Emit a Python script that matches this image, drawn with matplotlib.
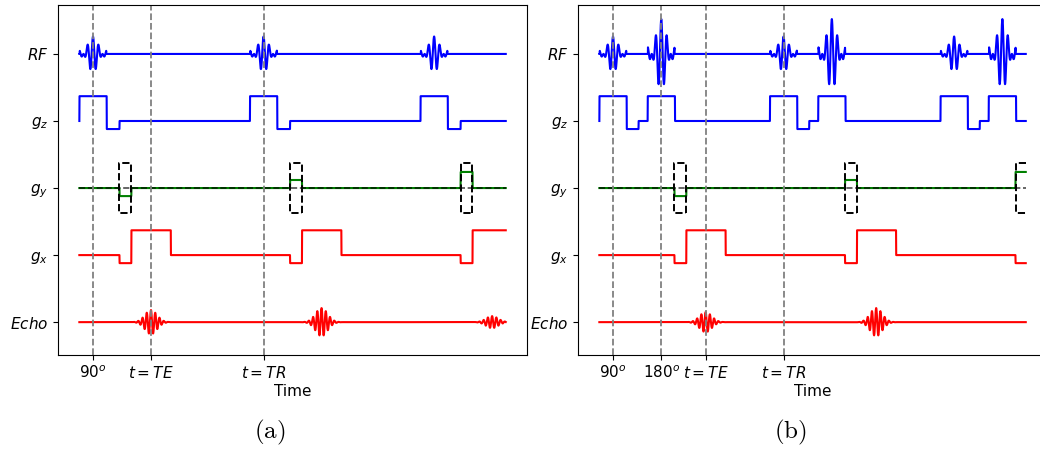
"""Gradient-echo (a) and spin-echo (b) pulse sequence diagrams."""

import numpy as np
import matplotlib
matplotlib.use("Agg")
import matplotlib.pyplot as plt

# timing (arbitrary units)
T_END = 25.0
TR = 10.0
N_REP = 3
T90 = 0.8
TE_A = 4.2
T180_B = 3.63
TE_B = 6.23

# row positions on the y axis
ROW_NAMES = ["$RF$", "$g_z$", "$g_y$", "$g_x$", "$Echo$"]
ROW_Y = [4, 3, 2, 1, 0]

# RF pulses per repetition: (centre, amplitude)
RF_A = [(0.8, 0.26)]
RF_B = [(0.8, 0.26), (3.63, 0.52)]

# gradient lobes per repetition: (start, end, level)
GZ_A = [(0.0, 1.6, 0.37), (1.6, 2.35, -0.12)]
GZ_B = [(0.0, 1.6, 0.37), (1.6, 2.3, -0.12), (2.83, 4.43, 0.37)]
GX_A = [(2.35, 3.05, -0.12), (3.05, 5.36, 0.37)]
GX_B = [(4.4, 5.1, -0.12), (5.1, 7.4, 0.37)]

# phase-encode lobe window and steps
GY_A = (2.35, 3.05)
GY_B = (4.4, 5.1)
GY_STEP = 0.12
GY_STEPS = [-1, 1, 2]
GY_BOX = 0.37

# echo amplitudes per repetition
ECHO_A = [0.18, 0.21, 0.09]
ECHO_B = [0.15, 0.21, 0.08]

TICKS_A = [T90, TE_A, T90 + TR]
LABELS_A = ["$90^o$", "$t=TE$", "$t=TR$"]
TICKS_B = [T90, T180_B, TE_B, T90 + TR]
LABELS_B = ["$90^o$", "$180^o$", "$t=TE$", "$t=TR$"]

t = np.linspace(0, T_END, 5001)


def rf_wave(pulses):
    y = np.zeros_like(t)
    for k in range(N_REP):
        for c, a in pulses:
            u = t - (c + k * TR)
            env = np.sinc(u / 0.55) * (np.abs(u) < 0.78)
            y += a * env * np.cos(2 * np.pi * 3.1 * u)
    return y


def grad_wave(lobes):
    y = np.zeros_like(t)
    for k in range(N_REP):
        for s, e, lev in lobes:
            m = (t > s + k * TR) & (t <= e + k * TR)
            y[m] = lev
    return y


def gy_wave(win):
    y = np.zeros_like(t)
    for k, st in enumerate(GY_STEPS):
        m = (t > win[0] + k * TR) & (t <= win[1] + k * TR)
        y[m] = st * GY_STEP
    return y


def echo_wave(te, amps):
    y = np.zeros_like(t)
    for k, a in enumerate(amps):
        u = t - (te + k * TR)
        y += a * np.exp(-(u / 0.5) ** 2) * np.cos(2 * np.pi * 4.0 * u)
    return y


def draw(ax, rf, gz, gx, gy_win, te, echo, ticks, labels):
    ax.plot(t, ROW_Y[0] + rf_wave(rf), color="b", lw=1.5)
    ax.plot(t, ROW_Y[1] + grad_wave(gz), color="b", lw=1.5)
    ax.plot(t, ROW_Y[2] + gy_wave(gy_win), color="g", lw=1.5)
    ax.plot([0, T_END], [ROW_Y[2], ROW_Y[2]], "k--", lw=1.2, alpha=0.7)
    for k in range(N_REP):
        x0 = gy_win[0] + k * TR
        x1 = gy_win[1] + k * TR
        top, bot = ROW_Y[2] + GY_BOX, ROW_Y[2] - GY_BOX
        xs = [min(x1, T_END), x0, x0, min(x1, T_END)]
        ys = [top, top, bot, bot]
        if x1 <= T_END:
            xs = [x1] + xs
            ys = [bot] + ys
        ax.plot(xs, ys, "k--", lw=1.4)
    ax.plot(t, ROW_Y[3] + grad_wave(gx), color="r", lw=1.5)
    ax.plot(t, ROW_Y[4] + echo_wave(te, echo), color="r", lw=1.5)
    for x in ticks:
        ax.axvline(x, color="gray", ls="--", lw=1.3)
    ax.set_xlim(-1.25, T_END + 1.25)
    ax.set_ylim(-0.49, 4.73)
    ax.set_yticks(ROW_Y)
    ax.set_yticklabels(ROW_NAMES, fontsize=11)
    ax.set_xticks(ticks)
    ax.set_xticklabels(labels, fontsize=11)
    ax.set_xlabel("Time", fontsize=11, labelpad=2)


fig = plt.figure(figsize=(10.4, 4.5), dpi=100)
ax_a = fig.add_axes([0.0558, 0.2111, 0.451, 0.7778])
ax_b = fig.add_axes([0.5558, 0.2111, 0.451, 0.7778])

draw(ax_a, RF_A, GZ_A, GX_A, GY_A, TE_A, ECHO_A, TICKS_A, LABELS_A)
draw(ax_b, RF_B, GZ_B, GX_B, GY_B, TE_B, ECHO_B, TICKS_B, LABELS_B)

fig.text(270 / 1040, 0.04, r"$\mathrm{(a)}$", math_fontfamily="cm",
         fontsize=18, ha="center", va="center")
fig.text(790 / 1040, 0.04, r"$\mathrm{(b)}$", math_fontfamily="cm",
         fontsize=18, ha="center", va="center")

fig.savefig("out.png", dpi=100)
